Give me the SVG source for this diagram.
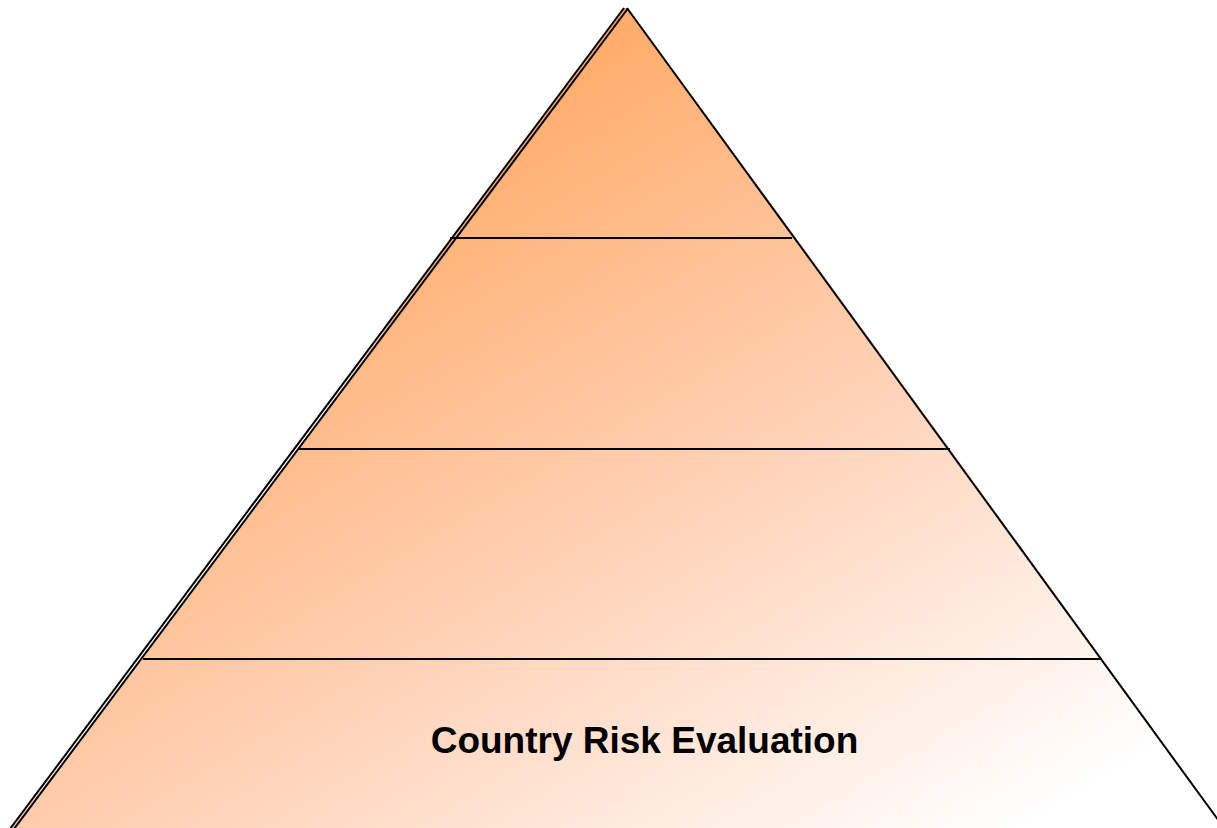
<svg xmlns="http://www.w3.org/2000/svg" width="1217" height="828" viewBox="0 0 1217 828">
  <defs>
    <linearGradient id="fillGrad" gradientUnits="userSpaceOnUse" x1="520" y1="40" x2="1000" y2="840">
      <stop offset="0" stop-color="#FFA964"/>
      <stop offset="0.5" stop-color="#FFD0B4"/>
      <stop offset="1" stop-color="#FFFFFF"/>
    </linearGradient>
    <style>
      .tier { fill: url(#fillGrad); stroke: none; }
      .edge { stroke: #000; stroke-width: 2; fill: none; }
      .label { font-family: "Liberation Sans", Arial, sans-serif; font-weight: bold; font-size: 37px; fill: #000; }
    </style>
  </defs>
  <rect width="1217" height="828" fill="#FFFFFF"/>
  <g id="tier1">
    <polygon class="tier" points="624,8 627,8 796,238 452,238"/>
  </g>
  <g id="tier2">
    <polygon class="tier" points="452,238 796,238 950,449 298,449"/>
  </g>
  <g id="tier3">
    <polygon class="tier" points="298,449 950,449 1102,659 142,659"/>
  </g>
  <g id="tier4">
    <polygon class="tier" points="142,659 1102,659 1240,850 -5,850"/>
    <text class="label" x="644.5" y="753" text-anchor="middle">Country Risk Evaluation</text>
  </g>
  <g id="connectors">
    <line class="edge" x1="624" y1="8" x2="-5" y2="849"/>
    <line class="edge" x1="627.5" y1="9" x2="-1" y2="849"/>
    <line class="edge" x1="627" y1="8" x2="1240" y2="850"/>
    <line class="edge" x1="450" y1="238" x2="792" y2="238"/>
    <line class="edge" x1="298" y1="449" x2="950" y2="449"/>
    <line class="edge" x1="143" y1="659" x2="1101" y2="659"/>
  </g>
</svg>
